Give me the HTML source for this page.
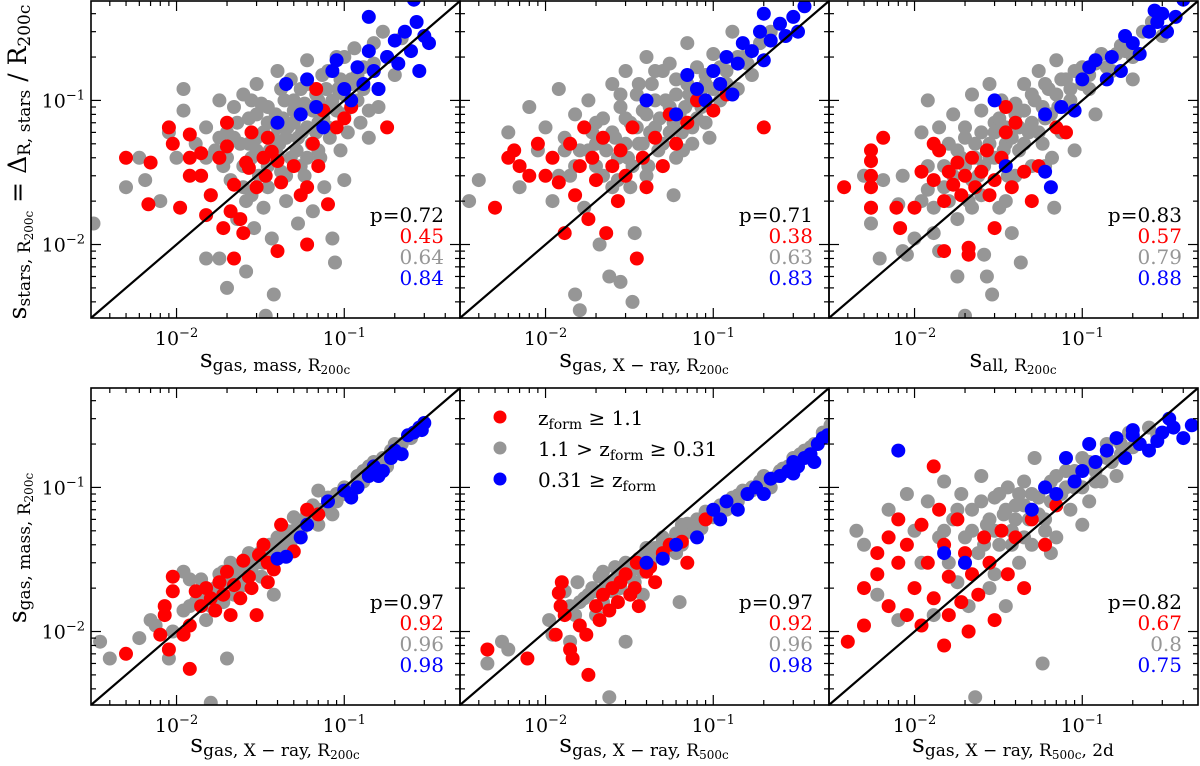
<!DOCTYPE html>
<html><head><meta charset="utf-8">
<style>
html,body{margin:0;padding:0;background:#fff;}
svg{display:block;font-family:"DejaVu Serif","Liberation Serif",serif;}
</style></head>
<body>
<svg id="fig" width="1200" height="766" viewBox="0 0 1200 766" xmlns="http://www.w3.org/2000/svg">
<g id="marks"></g>
<g id="frames"></g>
<text x="275" y="367" text-anchor="middle" font-size="25">s<tspan font-size="17" dy="4">gas, mass, R</tspan><tspan font-size="12" dy="3">200c</tspan></text>
<text x="644" y="367" text-anchor="middle" font-size="25">s<tspan font-size="17" dy="4">gas, X − ray, R</tspan><tspan font-size="12" dy="3">200c</tspan></text>
<text x="1013" y="367" text-anchor="middle" font-size="25">s<tspan font-size="17" dy="4">all, R</tspan><tspan font-size="12" dy="3">200c</tspan></text>
<text x="275" y="752" text-anchor="middle" font-size="25">s<tspan font-size="17" dy="4">gas, X − ray, R</tspan><tspan font-size="12" dy="3">200c</tspan></text>
<text x="644" y="752" text-anchor="middle" font-size="25">s<tspan font-size="17" dy="4">gas, X − ray, R</tspan><tspan font-size="12" dy="3">500c</tspan></text>
<text x="1013" y="752" text-anchor="middle" font-size="25">s<tspan font-size="17" dy="4">gas, X − ray, R</tspan><tspan font-size="12" dy="3">500c</tspan><tspan font-size="17" dy="-3">, 2d</tspan></text>
<text transform="translate(26,162) rotate(-90)" text-anchor="middle" font-size="25">s<tspan font-size="17" dy="4">stars, R</tspan><tspan font-size="12" dy="3">200c</tspan><tspan dy="-7"> = Δ</tspan><tspan font-size="17" dy="4">R, stars</tspan><tspan dy="-4"> / R</tspan><tspan font-size="17" dy="4">200c</tspan></text>
<text transform="translate(26,548) rotate(-90)" text-anchor="middle" font-size="25">s<tspan font-size="17" dy="4">gas, mass, R</tspan><tspan font-size="12" dy="3">200c</tspan></text>
<g font-size="20">
<circle cx="500" cy="417" r="6.5" fill="#ff0000"/>
<text x="538" y="425">z<tspan font-size="14" dy="4">form</tspan><tspan dy="-4"> ≥ 1.1</tspan></text>
<circle cx="500" cy="448" r="6.5" fill="#969696"/>
<text x="538" y="456">1.1 &gt; z<tspan font-size="14" dy="4">form</tspan><tspan dy="-4"> ≥ 0.31</tspan></text>
<circle cx="500" cy="479" r="6.5" fill="#0000ff"/>
<text x="538" y="487">0.31 ≥ z<tspan font-size="14" dy="4">form</tspan></text>
</g>
</svg>
<script>
const NS="http://www.w3.org/2000/svg";
const colLeft=[91,460,829], rowTop=[1,388], PW=369, PH=317;
const LMIN=-2.51, LMAX=-0.31;
const corrAll=["p=0.72","p=0.71","p=0.83","p=0.97","p=0.97","p=0.82"];
const corrRed=["0.45","0.38","0.57","0.92","0.92","0.67"];
const corrGray=["0.64","0.63","0.79","0.96","0.96","0.8"];
const corrBlue=["0.84","0.83","0.88","0.98","0.98","0.75"];

const p1Gray=[[0.0032,0.014],[0.005,0.025],[0.006,0.04],[0.0065,0.028],[0.008,0.02],[0.009,0.06],[0.01,0.04],[0.011,0.12],[0.011,0.085],[0.013,0.05],[0.014,0.03],[0.015,0.065],[0.015,0.008],[0.016,0.022],[0.017,0.045],[0.018,0.008],[0.018,0.1],[0.019,0.035],[0.02,0.005],[0.02,0.06],[0.021,0.028],[0.022,0.09],[0.023,0.015],[0.024,0.05],[0.025,0.11],[0.026,0.02],[0.026,0.0065],[0.027,0.075],[0.028,0.04],[0.029,0.013],[0.03,0.13],[0.03,0.055],[0.031,0.03],[0.032,0.095],[0.033,0.018],[0.034,0.0032],[0.035,0.07],[0.036,0.045],[0.037,0.011],[0.038,0.0045],[0.039,0.08],[0.04,0.16],[0.041,0.05],[0.042,0.032],[0.044,0.1],[0.045,0.02],[0.046,0.065],[0.048,0.14],[0.05,0.085],[0.052,0.045],[0.053,0.014],[0.055,0.12],[0.056,0.06],[0.058,0.03],[0.06,0.19],[0.062,0.09],[0.064,0.05],[0.065,0.017],[0.068,0.11],[0.07,0.07],[0.072,0.04],[0.074,0.15],[0.076,0.025],[0.08,0.09],[0.082,0.055],[0.085,0.011],[0.088,0.0075],[0.09,0.2],[0.092,0.12],[0.095,0.045],[0.1,0.08],[0.1,0.028],[0.105,0.06],[0.11,0.14],[0.115,0.23],[0.12,0.1],[0.125,0.07],[0.13,0.17],[0.14,0.085],[0.15,0.25],[0.16,0.12],[0.17,0.3],[0.18,0.2],[0.2,0.15],[0.22,0.27],[0.14,0.055],[0.16,0.09]];
const p1Gray2=[[0.02,0.04],[0.022,0.055],[0.025,0.035],[0.027,0.05],[0.03,0.045],[0.03,0.08],[0.033,0.06],[0.035,0.035],[0.038,0.055],[0.04,0.065],[0.04,0.042],[0.043,0.075],[0.045,0.055],[0.048,0.04],[0.05,0.07],[0.05,0.1],[0.053,0.055],[0.055,0.08],[0.058,0.095],[0.06,0.04],[0.06,0.065],[0.065,0.085],[0.068,0.06],[0.07,0.1],[0.075,0.075],[0.078,0.12],[0.08,0.065],[0.085,0.1],[0.09,0.085],[0.095,0.14],[0.1,0.11],[0.11,0.13],[0.12,0.15],[0.13,0.12],[0.15,0.18],[0.025,0.025],[0.028,0.022],[0.035,0.025],[0.045,0.03],[0.055,0.035],[0.07,0.045],[0.015,0.04],[0.018,0.055],[0.023,0.07],[0.028,0.1],[0.035,0.09],[0.042,0.12],[0.06,0.13],[0.08,0.16],[0.1,0.2]];
const p1Red=[[0.005,0.04],[0.007,0.037],[0.0068,0.019],[0.009,0.065],[0.0095,0.05],[0.0105,0.018],[0.012,0.058],[0.012,0.04],[0.012,0.03],[0.014,0.043],[0.014,0.03],[0.015,0.016],[0.016,0.022],[0.018,0.04],[0.019,0.013],[0.02,0.07],[0.02,0.048],[0.021,0.017],[0.022,0.026],[0.022,0.008],[0.024,0.015],[0.025,0.012],[0.026,0.037],[0.027,0.034],[0.028,0.06],[0.03,0.025],[0.033,0.04],[0.034,0.03],[0.035,0.055],[0.037,0.044],[0.04,0.038],[0.04,0.009],[0.042,0.027],[0.05,0.035],[0.055,0.022],[0.06,0.01],[0.06,0.025],[0.065,0.05],[0.07,0.035],[0.075,0.085],[0.08,0.019],[0.09,0.065],[0.1,0.075],[0.11,0.09],[0.18,0.065],[0.068,0.12]];
const p1Blue=[[0.04,0.07],[0.045,0.13],[0.055,0.08],[0.06,0.14],[0.068,0.09],[0.075,0.065],[0.085,0.16],[0.09,0.19],[0.1,0.12],[0.11,0.1],[0.12,0.17],[0.13,0.13],[0.14,0.22],[0.15,0.16],[0.16,0.12],[0.18,0.2],[0.2,0.26],[0.21,0.18],[0.23,0.3],[0.25,0.22],[0.27,0.35],[0.28,0.16],[0.3,0.28],[0.26,0.5],[0.14,0.38],[0.32,0.25]];

const p2Gray=[[0.0035,0.02],[0.004,0.028],[0.006,0.06],[0.007,0.025],[0.008,0.09],[0.009,0.045],[0.01,0.065],[0.011,0.02],[0.012,0.12],[0.013,0.055],[0.014,0.03],[0.015,0.08],[0.016,0.045],[0.017,0.018],[0.018,0.1],[0.019,0.06],[0.02,0.035],[0.021,0.01],[0.022,0.075],[0.023,0.045],[0.024,0.006],[0.025,0.13],[0.026,0.055],[0.027,0.028],[0.028,0.09],[0.03,0.16],[0.031,0.04],[0.032,0.07],[0.033,0.004],[0.034,0.012],[0.035,0.11],[0.036,0.05],[0.038,0.085],[0.04,0.2],[0.041,0.035],[0.043,0.13],[0.045,0.065],[0.047,0.045],[0.05,0.16],[0.052,0.1],[0.055,0.06],[0.058,0.022],[0.06,0.14],[0.063,0.08],[0.066,0.045],[0.07,0.25],[0.072,0.11],[0.075,0.065],[0.08,0.17],[0.085,0.09],[0.09,0.13],[0.095,0.055],[0.1,0.21],[0.11,0.1],[0.12,0.16],[0.13,0.3],[0.14,0.12],[0.15,0.2],[0.17,0.15],[0.19,0.25],[0.22,0.3],[0.015,0.0045],[0.016,0.0035],[0.028,0.0055]];
const p2Gray2=[[0.015,0.035],[0.018,0.045],[0.02,0.05],[0.022,0.03],[0.025,0.06],[0.027,0.04],[0.03,0.05],[0.03,0.075],[0.033,0.035],[0.035,0.065],[0.038,0.05],[0.04,0.08],[0.042,0.06],[0.045,0.1],[0.048,0.075],[0.05,0.05],[0.055,0.09],[0.058,0.07],[0.06,0.11],[0.065,0.06],[0.068,0.09],[0.07,0.13],[0.075,0.1],[0.08,0.075],[0.085,0.12],[0.09,0.15],[0.1,0.12],[0.11,0.17],[0.12,0.13],[0.14,0.2],[0.16,0.18],[0.025,0.025],[0.032,0.025],[0.04,0.03],[0.05,0.035],[0.06,0.04],[0.075,0.05],[0.09,0.07],[0.02,0.07],[0.028,0.11],[0.036,0.13],[0.045,0.16],[0.055,0.18],[0.012,0.03],[0.013,0.045]];
const p2Red=[[0.005,0.018],[0.006,0.04],[0.0065,0.045],[0.007,0.035],[0.008,0.03],[0.009,0.05],[0.01,0.03],[0.011,0.04],[0.012,0.027],[0.013,0.012],[0.014,0.05],[0.015,0.022],[0.016,0.035],[0.017,0.065],[0.018,0.015],[0.019,0.04],[0.02,0.028],[0.022,0.055],[0.023,0.012],[0.025,0.035],[0.027,0.02],[0.028,0.045],[0.03,0.03],[0.033,0.065],[0.035,0.008],[0.038,0.04],[0.04,0.025],[0.045,0.055],[0.05,0.035],[0.055,0.08],[0.06,0.05],[0.07,0.07],[0.08,0.1],[0.1,0.085],[0.2,0.065],[0.12,0.11]];
const p2Blue=[[0.04,0.1],[0.06,0.08],[0.07,0.15],[0.08,0.12],[0.1,0.16],[0.11,0.13],[0.12,0.2],[0.14,0.18],[0.15,0.25],[0.17,0.22],[0.19,0.3],[0.2,0.19],[0.22,0.26],[0.25,0.34],[0.27,0.28],[0.3,0.38],[0.32,0.3],[0.35,0.45],[0.2,0.4],[0.09,0.1],[0.13,0.11]];

const p3Gray=[[0.005,0.03],[0.0055,0.018],[0.0055,0.014],[0.0062,0.008],[0.0065,0.028],[0.0085,0.03],[0.008,0.019],[0.0085,0.009],[0.009,0.0085],[0.01,0.011],[0.011,0.02],[0.011,0.06],[0.012,0.024],[0.012,0.1],[0.013,0.012],[0.014,0.065],[0.014,0.009],[0.015,0.035],[0.016,0.05],[0.017,0.08],[0.018,0.015],[0.018,0.006],[0.019,0.04],[0.02,0.0032],[0.02,0.065],[0.021,0.02],[0.022,0.11],[0.023,0.05],[0.024,0.03],[0.025,0.085],[0.026,0.0085],[0.027,0.006],[0.028,0.13],[0.028,0.04],[0.029,0.0045],[0.03,0.07],[0.032,0.018],[0.033,0.1],[0.035,0.05],[0.036,0.03],[0.038,0.012],[0.04,0.08],[0.042,0.045],[0.043,0.0075],[0.045,0.13],[0.048,0.06],[0.05,0.035],[0.052,0.1],[0.055,0.16],[0.058,0.05],[0.06,0.075],[0.063,0.12],[0.066,0.04],[0.068,0.018],[0.07,0.19],[0.072,0.09],[0.075,0.06],[0.08,0.14],[0.085,0.1],[0.09,0.045],[0.1,0.17],[0.11,0.12],[0.12,0.08],[0.13,0.21],[0.15,0.16],[0.17,0.24],[0.2,0.2],[0.23,0.3],[0.26,0.35],[0.2,0.14],[0.3,0.28]];
const p3Gray2=[[0.015,0.025],[0.017,0.03],[0.018,0.045],[0.02,0.035],[0.02,0.055],[0.022,0.028],[0.023,0.04],[0.025,0.06],[0.026,0.035],[0.028,0.05],[0.03,0.04],[0.03,0.06],[0.032,0.075],[0.034,0.045],[0.035,0.065],[0.038,0.055],[0.04,0.095],[0.042,0.065],[0.045,0.05],[0.045,0.085],[0.05,0.07],[0.05,0.11],[0.055,0.06],[0.058,0.09],[0.06,0.13],[0.065,0.08],[0.07,0.11],[0.075,0.14],[0.08,0.09],[0.085,0.12],[0.09,0.16],[0.1,0.13],[0.11,0.15],[0.12,0.18],[0.14,0.17],[0.16,0.21],[0.18,0.22],[0.016,0.02],[0.022,0.018],[0.025,0.022],[0.035,0.02],[0.04,0.03],[0.06,0.035],[0.012,0.035],[0.013,0.018]];
const p3Red=[[0.0038,0.025],[0.0055,0.045],[0.0055,0.038],[0.0055,0.03],[0.0055,0.025],[0.0055,0.018],[0.0065,0.055],[0.0078,0.018],[0.0082,0.013],[0.01,0.018],[0.011,0.032],[0.013,0.028],[0.013,0.05],[0.014,0.045],[0.015,0.02],[0.015,0.009],[0.016,0.032],[0.017,0.026],[0.018,0.037],[0.019,0.022],[0.02,0.03],[0.021,0.0085],[0.021,0.0095],[0.022,0.04],[0.023,0.025],[0.025,0.032],[0.027,0.045],[0.028,0.022],[0.03,0.013],[0.03,0.028],[0.033,0.04],[0.035,0.06],[0.038,0.025],[0.04,0.07],[0.045,0.032],[0.05,0.02],[0.055,0.035],[0.07,0.065],[0.08,0.06],[0.035,0.09]];
const p3Blue=[[0.03,0.1],[0.035,0.035],[0.06,0.032],[0.065,0.025],[0.06,0.08],[0.075,0.09],[0.09,0.085],[0.1,0.14],[0.11,0.17],[0.12,0.19],[0.14,0.14],[0.15,0.2],[0.17,0.16],[0.2,0.25],[0.22,0.21],[0.25,0.3],[0.28,0.35],[0.3,0.4],[0.32,0.3],[0.36,0.38],[0.4,0.5],[0.27,0.42],[0.18,0.28]];

const p4Gray=[[0.0035,0.0085],[0.004,0.0065],[0.006,0.009],[0.007,0.012],[0.0075,0.011],[0.009,0.0065],[0.0095,0.01],[0.011,0.014],[0.011,0.026],[0.012,0.023],[0.013,0.016],[0.014,0.023],[0.015,0.012],[0.016,0.0032],[0.017,0.02],[0.018,0.025],[0.019,0.016],[0.02,0.0065],[0.021,0.03],[0.022,0.018],[0.023,0.025],[0.025,0.021],[0.026,0.032],[0.028,0.026],[0.03,0.03],[0.032,0.024],[0.034,0.038],[0.036,0.033],[0.038,0.018],[0.04,0.045],[0.042,0.036],[0.045,0.05],[0.048,0.042],[0.05,0.062],[0.055,0.05],[0.06,0.058],[0.065,0.075],[0.07,0.055],[0.075,0.07],[0.08,0.085],[0.085,0.065],[0.09,0.08],[0.1,0.1],[0.11,0.09],[0.12,0.12],[0.13,0.11],[0.14,0.14],[0.15,0.13],[0.17,0.16],[0.19,0.18],[0.2,0.2],[0.22,0.2],[0.25,0.22],[0.07,0.095],[0.045,0.035],[0.15,0.15],[0.18,0.14]];
const p4Gray2=[[0.012,0.015],[0.014,0.018],[0.016,0.015],[0.018,0.02],[0.02,0.022],[0.022,0.025],[0.024,0.028],[0.026,0.025],[0.028,0.03],[0.03,0.034],[0.033,0.03],[0.036,0.04],[0.04,0.04],[0.044,0.044],[0.05,0.05],[0.055,0.058],[0.06,0.065],[0.065,0.062],[0.07,0.07],[0.08,0.075],[0.09,0.09],[0.1,0.09],[0.12,0.11],[0.13,0.13],[0.16,0.14],[0.2,0.18],[0.019,0.026],[0.023,0.02],[0.027,0.035],[0.032,0.036],[0.045,0.04],[0.055,0.045]];
const p4Red=[[0.005,0.007],[0.008,0.0095],[0.0085,0.015],[0.0085,0.013],[0.009,0.0075],[0.0095,0.019],[0.0095,0.024],[0.011,0.0095],[0.012,0.011],[0.012,0.0055],[0.013,0.019],[0.014,0.015],[0.015,0.02],[0.016,0.017],[0.017,0.014],[0.018,0.022],[0.019,0.018],[0.02,0.026],[0.021,0.013],[0.022,0.021],[0.024,0.017],[0.025,0.031],[0.027,0.024],[0.028,0.02],[0.03,0.013],[0.031,0.034],[0.033,0.04],[0.035,0.03],[0.038,0.027],[0.042,0.055],[0.05,0.036],[0.06,0.07],[0.07,0.065],[0.035,0.022]];
const p4Blue=[[0.04,0.032],[0.045,0.033],[0.055,0.045],[0.06,0.055],[0.08,0.08],[0.1,0.095],[0.11,0.085],[0.12,0.1],[0.15,0.14],[0.16,0.12],[0.17,0.13],[0.19,0.16],[0.2,0.18],[0.22,0.17],[0.24,0.23],[0.26,0.24],[0.28,0.26],[0.3,0.28],[0.29,0.25],[0.14,0.12]];

const p5Gray=[[0.0045,0.006],[0.0055,0.0085],[0.006,0.0075],[0.0105,0.012],[0.011,0.0095],[0.013,0.019],[0.014,0.0085],[0.015,0.013],[0.0155,0.022],[0.017,0.017],[0.019,0.02],[0.02,0.013],[0.021,0.024],[0.022,0.016],[0.024,0.0035],[0.025,0.019],[0.026,0.028],[0.028,0.02],[0.03,0.0085],[0.03,0.024],[0.032,0.029],[0.034,0.022],[0.036,0.032],[0.038,0.026],[0.04,0.034],[0.042,0.03],[0.045,0.038],[0.048,0.033],[0.05,0.042],[0.055,0.037],[0.06,0.048],[0.063,0.016],[0.065,0.04],[0.07,0.056],[0.075,0.05],[0.08,0.06],[0.085,0.052],[0.09,0.068],[0.1,0.065],[0.11,0.075],[0.12,0.07],[0.13,0.085],[0.14,0.08],[0.15,0.095],[0.17,0.1],[0.19,0.11],[0.2,0.12],[0.22,0.1],[0.25,0.13],[0.28,0.14],[0.3,0.16],[0.35,0.18],[0.4,0.2],[0.45,0.24],[0.5,0.27],[0.06,0.035],[0.16,0.09],[0.24,0.12],[0.038,0.018]];
const p5Gray2=[[0.014,0.015],[0.016,0.016],[0.018,0.018],[0.02,0.019],[0.023,0.021],[0.026,0.023],[0.028,0.025],[0.032,0.026],[0.036,0.029],[0.04,0.03],[0.045,0.034],[0.05,0.036],[0.055,0.04],[0.06,0.043],[0.068,0.048],[0.075,0.053],[0.085,0.058],[0.1,0.062],[0.12,0.078],[0.14,0.088],[0.17,0.095],[0.2,0.11],[0.26,0.135],[0.33,0.17],[0.38,0.19],[0.022,0.026],[0.03,0.03],[0.04,0.038],[0.05,0.045],[0.065,0.055]];
const p5Red=[[0.0045,0.0075],[0.0078,0.0065],[0.0115,0.0095],[0.012,0.0185],[0.0125,0.022],[0.0123,0.015],[0.013,0.013],[0.014,0.0075],[0.0145,0.0065],[0.016,0.011],[0.0175,0.0095],[0.018,0.005],[0.02,0.015],[0.021,0.012],[0.022,0.018],[0.024,0.014],[0.025,0.02],[0.027,0.016],[0.028,0.022],[0.03,0.025],[0.032,0.018],[0.034,0.02],[0.035,0.03],[0.036,0.015],[0.04,0.026],[0.042,0.028],[0.045,0.022],[0.05,0.035],[0.055,0.04],[0.07,0.03],[0.09,0.06],[0.065,0.042]];
const p5Blue=[[0.04,0.03],[0.05,0.032],[0.06,0.04],[0.08,0.045],[0.1,0.07],[0.11,0.06],[0.12,0.08],[0.14,0.07],[0.16,0.09],[0.18,0.1],[0.2,0.09],[0.22,0.115],[0.25,0.12],[0.28,0.13],[0.3,0.15],[0.32,0.14],[0.35,0.16],[0.38,0.17],[0.42,0.2],[0.45,0.22],[0.48,0.23],[0.4,0.15],[0.3,0.125]];

const p6Gray=[[0.0045,0.05],[0.005,0.04],[0.006,0.018],[0.007,0.07],[0.008,0.012],[0.009,0.09],[0.01,0.05],[0.011,0.03],[0.012,0.08],[0.013,0.013],[0.014,0.045],[0.015,0.11],[0.016,0.03],[0.017,0.06],[0.018,0.022],[0.019,0.09],[0.02,0.045],[0.021,0.015],[0.022,0.07],[0.023,0.0035],[0.024,0.035],[0.025,0.12],[0.027,0.055],[0.028,0.02],[0.03,0.085],[0.032,0.04],[0.034,0.065],[0.035,0.015],[0.036,0.1],[0.038,0.05],[0.04,0.075],[0.042,0.03],[0.045,0.11],[0.048,0.06],[0.05,0.04],[0.052,0.16],[0.055,0.085],[0.058,0.006],[0.06,0.06],[0.065,0.11],[0.07,0.045],[0.075,0.09],[0.08,0.13],[0.085,0.07],[0.09,0.1],[0.1,0.16],[0.11,0.08],[0.12,0.13],[0.13,0.11],[0.14,0.2],[0.15,0.15],[0.17,0.17],[0.19,0.24],[0.2,0.19],[0.22,0.2],[0.25,0.26],[0.28,0.23],[0.1,0.055],[0.065,0.035],[0.16,0.12]];
const p6Gray2=[[0.015,0.05],[0.018,0.07],[0.02,0.03],[0.022,0.05],[0.025,0.08],[0.026,0.04],[0.028,0.06],[0.03,0.05],[0.032,0.09],[0.035,0.07],[0.038,0.04],[0.04,0.06],[0.042,0.09],[0.045,0.075],[0.05,0.09],[0.055,0.065],[0.06,0.1],[0.065,0.08],[0.07,0.12],[0.08,0.1],[0.09,0.13],[0.1,0.1],[0.11,0.15],[0.12,0.11],[0.14,0.16],[0.17,0.2],[0.03,0.025],[0.045,0.045],[0.06,0.05]];
const p6Red=[[0.004,0.0085],[0.005,0.011],[0.005,0.02],[0.006,0.025],[0.006,0.035],[0.007,0.015],[0.007,0.045],[0.008,0.06],[0.008,0.03],[0.009,0.013],[0.009,0.04],[0.01,0.02],[0.011,0.011],[0.011,0.055],[0.012,0.03],[0.013,0.017],[0.013,0.14],[0.014,0.07],[0.015,0.04],[0.016,0.013],[0.016,0.024],[0.018,0.06],[0.019,0.016],[0.02,0.035],[0.021,0.01],[0.022,0.025],[0.024,0.018],[0.026,0.045],[0.028,0.03],[0.03,0.012],[0.033,0.05],[0.036,0.025],[0.04,0.045],[0.045,0.02],[0.05,0.06],[0.06,0.04],[0.07,0.075],[0.015,0.008]];
const p6Blue=[[0.008,0.18],[0.015,0.035],[0.02,0.03],[0.05,0.07],[0.06,0.1],[0.07,0.09],[0.08,0.16],[0.09,0.11],[0.1,0.13],[0.11,0.2],[0.12,0.15],[0.14,0.18],[0.16,0.22],[0.18,0.16],[0.2,0.25],[0.22,0.2],[0.25,0.18],[0.28,0.21],[0.3,0.24],[0.35,0.26],[0.4,0.22],[0.45,0.27],[0.33,0.3],[0.2,0.23]];

const grays=[p1Gray.concat(p1Gray2),p2Gray.concat(p2Gray2),p3Gray.concat(p3Gray2),p4Gray.concat(p4Gray2),p5Gray.concat(p5Gray2),p6Gray.concat(p6Gray2)];
const reds=[p1Red,p2Red,p3Red,p4Red,p5Red,p6Red];
const blues=[p1Blue,p2Blue,p3Blue,p4Blue,p5Blue,p6Blue];

const svg=document.getElementById('fig');
const marks=document.getElementById('marks');
const frames=document.getElementById('frames');
function mk(tag,attrs,parent){const e=document.createElementNS(NS,tag);for(const k in attrs)e.setAttribute(k,attrs[k]);parent.appendChild(e);return e;}
function xScale(i,v){return colLeft[i%3]+(Math.log10(v)-LMIN)/(LMAX-LMIN)*PW;}
function yScale(i,v){const t=rowTop[Math.floor(i/3)];return t+(LMAX-Math.log10(v))/(LMAX-LMIN)*PH;}

for(let i=0;i<6;i++){
  const L=colLeft[i%3], T=rowTop[Math.floor(i/3)];
  const cp=mk('clipPath',{id:'cp'+i},svg);
  mk('rect',{x:L,y:T,width:PW,height:PH},cp);
  const g=mk('g',{'clip-path':'url(#cp'+i+')'},marks);
  
  
  const sets=[[grays[i],'#969696','gray'],[reds[i],'#ff0000','red'],[blues[i],'#0000ff','blue']];
  sets.forEach(([arr,col,nm])=>{
    arr.forEach(p=>{
      const c=mk('circle',{cx:xScale(i,p[0]).toFixed(1),cy:yScale(i,p[1]).toFixed(1),r:7,fill:col},g);
      
      
    });
  });
  const ln=mk('line',{x1:xScale(i,Math.pow(10,LMIN)),y1:yScale(i,Math.pow(10,LMIN)),x2:xScale(i,Math.pow(10,LMAX)),y2:yScale(i,Math.pow(10,LMAX)),stroke:'#000','stroke-width':2.2},g);
  
  
  const fr=mk('rect',{x:L,y:T,width:PW,height:PH,fill:'none',stroke:'#000','stroke-width':1.6},frames);
  
  
  for(let d=-3;d<=0;d++){for(let m=1;m<=9;m++){
    const v=m*Math.pow(10,d); const lv=Math.log10(v);
    if(lv<LMIN||lv>LMAX) continue;
    const len=m===1?10:5;
    const x=xScale(i,v), y=yScale(i,v), B=T+PH, R=L+PW;
    mk('line',{x1:x,y1:B,x2:x,y2:B-len,stroke:'#000','stroke-width':1.2},frames);
    mk('line',{x1:x,y1:T,x2:x,y2:T+len,stroke:'#000','stroke-width':1.2},frames);
    mk('line',{x1:L,y1:y,x2:L+len,y2:y,stroke:'#000','stroke-width':1.2},frames);
    mk('line',{x1:R,y1:y,x2:R-len,y2:y,stroke:'#000','stroke-width':1.2},frames);
    if(m===1){
      const tx=mk('text',{x:x,y:B+27,'text-anchor':'middle','font-size':19},frames);
      
      
      tx.innerHTML='10<tspan font-size="13" dy="-8">−'+(-d)+'</tspan>';
      if(i%3===0){
        const ty=mk('text',{x:L-6,y:y+7,'text-anchor':'end','font-size':19},frames);
        
        
        ty.innerHTML='10<tspan font-size="13" dy="-8">−'+(-d)+'</tspan>';
      }
    }
  }}
  const vals=[[corrAll[i],'#000'],[corrRed[i],'#ff0000'],[corrGray[i],'#969696'],[corrBlue[i],'#0000ff']];
  vals.forEach((vv,k)=>{
    const t=mk('text',{x:L+353,y:T+221+k*21,'text-anchor':'end','font-size':20,fill:vv[1]},frames);
    
    
    t.textContent=vv[0];
  });
}
</script>
</body></html>
